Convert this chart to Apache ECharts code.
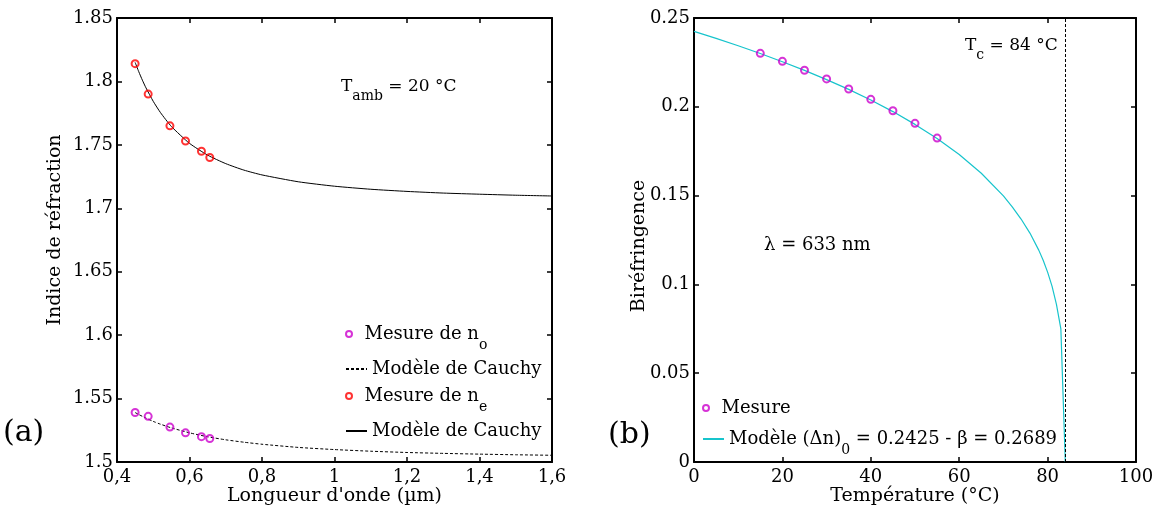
<!DOCTYPE html>
<html><head><meta charset="utf-8">
<script src="https://cdn.jsdelivr.net/npm/echarts@6/dist/echarts.min.js"></script>
<style>html,body{margin:0;padding:0;background:#fff}#c{width:1159px;height:508px}</style>
</head><body><div id="c"></div><script>
// ---- (a) refractive index vs wavelength ----
const wavelengths = [0.45, 0.486, 0.546, 0.589, 0.633, 0.656];
const nO = [1.539, 1.536, 1.5275, 1.523, 1.520, 1.5185];
const nE = [1.814, 1.790, 1.765, 1.753, 1.745, 1.740];
const cauchyLambda = [0.45, 0.46, 0.47, 0.48, 0.5, 0.52, 0.55, 0.6, 0.65, 0.7, 0.75, 0.8, 0.9, 1.0, 1.1, 1.2, 1.3, 1.4, 1.5, 1.6];
const cauchyO = [1.539, 1.5374, 1.5360, 1.5346, 1.5320, 1.5298, 1.5269, 1.5230, 1.5199, 1.5175, 1.5156, 1.5140, 1.5115, 1.5098, 1.5085, 1.5075, 1.5068, 1.5062, 1.5057, 1.5053];
const cauchyE = [1.815, 1.8077, 1.8010, 1.7949, 1.7843, 1.7754, 1.7645, 1.7512, 1.7419, 1.7352, 1.7301, 1.7263, 1.7209, 1.7174, 1.7150, 1.7133, 1.7120, 1.7111, 1.7103, 1.7097];
const xTicksA = [0.4, 0.6, 0.8, 1.0, 1.2, 1.4, 1.6];
const yTicksA = [1.5, 1.55, 1.6, 1.65, 1.7, 1.75, 1.8, 1.85];
// ---- (b) birefringence vs temperature ----
const temps = [15, 20, 25, 30, 35, 40, 45, 50, 55];
const biref = [0.2301, 0.2256, 0.2206, 0.2157, 0.2100, 0.2042, 0.1978, 0.1907, 0.1824];
const modelT = [0, 5, 10, 15, 20, 25, 30, 35, 40, 45, 50, 55, 60, 65, 70, 72, 74, 76, 78, 79, 80, 81, 82, 83, 84];
const modelDn = [0.2425, 0.2385, 0.2344, 0.2300, 0.2254, 0.2205, 0.2153, 0.2098, 0.2038, 0.1973, 0.1901, 0.1822, 0.1731, 0.1626, 0.1498, 0.1437, 0.1368, 0.1289, 0.1193, 0.1136, 0.1069, 0.0990, 0.0888, 0.0750, 0];
const TC = 84;
const xTicksB = [0, 20, 40, 60, 80, 100];
const yTicksB = [0, 0.05, 0.1, 0.15, 0.2, 0.25];

const FONT = 'DejaVu Serif';
const MAG = '#cc00cc', RED = '#ff0000', CYAN = '#17c4cc';

function axisBase(extra) {
  return Object.assign({
    type: 'value',
    axisLine: {show: true, onZero: false, lineStyle: {color: '#000', width: 2}},
    axisTick: {show: true, inside: true, length: 5, lineStyle: {color: '#000', width: 1.5}},
    splitLine: {show: false},
    axisLabel: {show: true, color: '#000', fontFamily: FONT, fontSize: 18, margin: 4},
    nameTextStyle: {color: '#000', fontFamily: FONT, fontSize: 19},
    nameMoveOverlap: false
  }, extra);
}
function mirror(a, pos) {
  const m = axisBase(Object.assign({}, a, {position: pos, name: ''}));
  m.axisLabel = {show: false};
  return m;
}
const fmtA = v => String(+v.toFixed(2)).replace('.', ',');

const xA = axisBase({gridIndex: 0, min: xTicksA[0], max: xTicksA[xTicksA.length - 1], interval: 0.2,
  name: "Longueur d'onde (µm)", nameLocation: 'middle', nameGap: 25,
  axisLabel: {color: '#000', fontFamily: FONT, fontSize: 18, margin: 6, formatter: fmtA}});
const yA = axisBase({gridIndex: 0, min: yTicksA[0], max: yTicksA[yTicksA.length - 1], interval: 0.05,
  name: 'Indice de réfraction', nameLocation: 'middle', nameGap: 52,
  nameTextStyle: {color: '#000', fontFamily: FONT, fontSize: 19, padding: [0, 0, 0, 20]}});
const xB = axisBase({gridIndex: 1, min: xTicksB[0], max: xTicksB[xTicksB.length - 1], interval: 20,
  name: 'Température (°C)', nameLocation: 'middle', nameGap: 25,
  axisLabel: {color: '#000', fontFamily: FONT, fontSize: 18, margin: 6}});
const yB = axisBase({gridIndex: 1, min: yTicksB[0], max: yTicksB[yTicksB.length - 1], interval: 0.05,
  name: 'Biréfringence', nameLocation: 'middle', nameGap: 45,
  nameTextStyle: {color: '#000', fontFamily: FONT, fontSize: 19, padding: [0, 12, 0, 0]}});

const rich = {
  m: {fontFamily: FONT, fontSize: 18, lineHeight: 36, color: '#000'},
  s: {fontFamily: FONT, fontSize: 14, lineHeight: 14, verticalAlign: 'bottom', color: '#000'},
  t: {fontFamily: FONT, fontSize: 18, lineHeight: 20, color: '#000'},
  m2: {fontFamily: FONT, fontSize: 17, lineHeight: 34, color: '#000'},
  s2: {fontFamily: FONT, fontSize: 14, lineHeight: 14, verticalAlign: 'bottom', color: '#000'}
};
const labels = {
  mesO: '{m|Mesure de n}{s|o}',
  cauO: '{t|Modèle de Cauchy}',
  mesE: '{m|Mesure de n}{s|e}',
  cauE: '{t|Modèle de Cauchy}',
  mes: '{t|Mesure}',
  mod: '{m|Modèle (Δn)}{s|0}{m| = 0.2425 - β = 0.2689}'
};
function leg(name, left, top, icon, color) {
  const d = {name: name};
  if (icon) d.icon = icon;
  d.itemStyle = icon ? {color: 'rgba(0,0,0,0)', borderColor: color, borderWidth: 2}
                     : {color: 'rgba(0,0,0,0)', borderColor: 'rgba(0,0,0,0)', borderWidth: 0};
  return {data: [d], left: left, top: top, orient: 'vertical', itemWidth: 21, itemHeight: 6, itemGap: 0,
    padding: 0, selectedMode: false, formatter: n => labels[n], textStyle: {rich: rich}};
}

const option = {
  animation: false,
  backgroundColor: '#fff',
  grid: [
    {left: 117, top: 18, width: 435, height: 444, outerBoundsMode: 'none'},
    {left: 694, top: 18, width: 442, height: 444, outerBoundsMode: 'none'}
  ],
  xAxis: [xA, mirror(xA, 'top'), xB, mirror(xB, 'top')],
  yAxis: [yA, mirror(yA, 'right'), yB, mirror(yB, 'right')],
  legend: [
    leg('mesO', 345, 325, 'circle', MAG),
    leg('cauO', 345, 360),
    leg('mesE', 345, 387, 'circle', RED),
    leg('cauE', 345, 422),
    leg('mes', 702, 399, 'circle', MAG),
    leg('mod', 702, 430)
  ],
  series: [
    {name: 'cauO', type: 'line', xAxisIndex: 0, yAxisIndex: 0, symbol: 'none', smooth: 0.2,
      data: cauchyLambda.map((w, i) => [w, cauchyO[i]]), itemStyle: {color: '#000'},
      lineStyle: {color: '#000', width: 1, type: [3, 2]}, z: 2},
    {name: 'cauE', type: 'line', xAxisIndex: 0, yAxisIndex: 0, symbol: 'none', smooth: 0.2,
      data: cauchyLambda.map((w, i) => [w, cauchyE[i]]), itemStyle: {color: '#000'},
      lineStyle: {color: '#000', width: 1}, z: 2},
    {name: 'mesO', type: 'scatter', xAxisIndex: 0, yAxisIndex: 0, symbol: 'circle', symbolSize: 7,
      data: wavelengths.map((w, i) => [w, nO[i]]), itemStyle: {color: 'rgba(0,0,0,0)', borderColor: MAG, borderWidth: 2}, z: 3},
    {name: 'mesE', type: 'scatter', xAxisIndex: 0, yAxisIndex: 0, symbol: 'circle', symbolSize: 7,
      data: wavelengths.map((w, i) => [w, nE[i]]), itemStyle: {color: 'rgba(0,0,0,0)', borderColor: RED, borderWidth: 2}, z: 3},
    {name: 'mod', type: 'line', xAxisIndex: 2, yAxisIndex: 2, symbol: 'none',
      data: modelT.map((t, i) => [t, modelDn[i]]), itemStyle: {color: CYAN}, lineStyle: {color: CYAN, width: 1.2}, z: 2,
      markLine: {silent: true, symbol: ['none', 'none'], label: {show: false},
        lineStyle: {color: '#000', width: 1, type: [3, 2]}, data: [{xAxis: TC}]}},
    {name: 'mes', type: 'scatter', xAxisIndex: 2, yAxisIndex: 2, symbol: 'circle', symbolSize: 7,
      data: temps.map((t, i) => [t, biref[i]]), itemStyle: {color: 'rgba(0,0,0,0)', borderColor: MAG, borderWidth: 2}, z: 3}
  ],
  graphic: [
    {type: 'text', left: 341, top: 78, style: {text: '{m2|T}{s2|amb}{m2| = 20 °C}', rich: rich}},
    {type: 'text', left: 965, top: 37, style: {text: '{m2|T}{s2|c}{m2| = 84 °C}', rich: rich}},
    {type: 'text', left: 764, top: 236, style: {text: '{t|λ = 633 nm}', rich: rich}},
    {type: 'text', left: 3, top: 418, style: {text: '(a)', fontFamily: FONT, fontSize: 30, fill: '#000'}},
    {type: 'text', left: 608, top: 420, style: {text: '(b)', fontFamily: FONT, fontSize: 30, fill: '#000'}}
  ]
};
const chart = echarts.init(document.getElementById('c'));
chart.setOption(option);
</script></body></html>
